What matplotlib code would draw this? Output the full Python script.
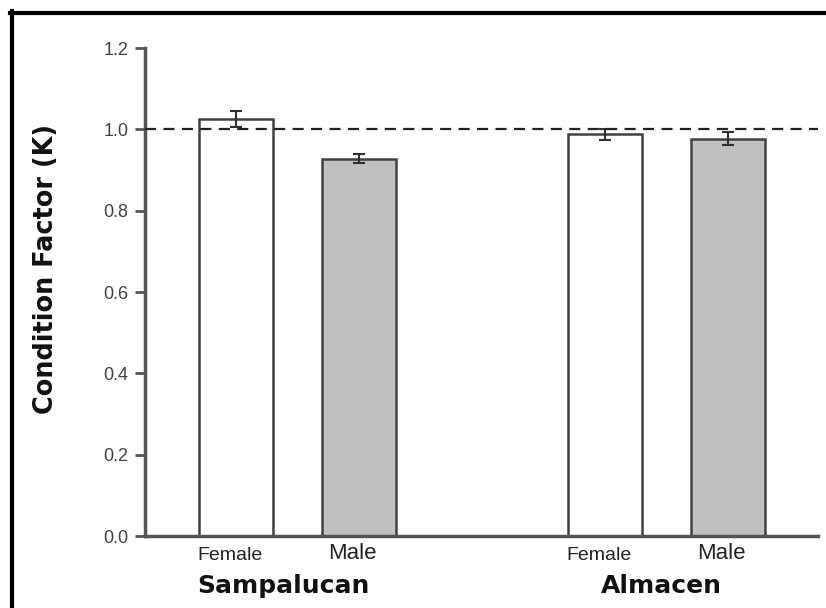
import matplotlib.pyplot as plt
from matplotlib.lines import Line2D

# data
sites = ['Sampalucan', 'Almacen']
sexes = ['Female', 'Male', 'Female', 'Male']
k_mean = [1.025, 0.928, 0.988, 0.977]
k_err = [0.020, 0.011, 0.013, 0.016]
colors = ['white', '#c0c0c0', 'white', '#c0c0c0']
positions = [0, 1, 3, 4]

fig = plt.figure(figsize=(8.26, 6.08), dpi=100)
ax = fig.add_axes([0.1755, 0.1184, 0.8145, 0.8026])

ax.bar(positions, k_mean, width=0.6, color=colors, edgecolor='#404040',
       linewidth=1.8, zorder=2)
ax.errorbar(positions, k_mean, yerr=k_err, fmt='none', ecolor='#303030',
            elinewidth=1.5, capsize=4, capthick=1.5, zorder=3)
ax.axhline(1.0, color='#222222', linestyle=(0, (5, 3.3)), linewidth=1.6, zorder=4)

ax.set_xlim(-0.74, 4.73)
ax.set_ylim(0, 1.2)
ax.set_yticks([0.0, 0.2, 0.4, 0.6, 0.8, 1.0, 1.2])
ax.set_yticklabels(['0.0', '0.2', '0.4', '0.6', '0.8', '1.0', '1.2'],
                   family='Liberation Sans', fontsize=13, color='#404048')
ax.tick_params(axis='y', length=7, width=2, color='#555555', pad=5)
ax.set_xticks([])

for s in ['top', 'right']:
    ax.spines[s].set_visible(False)
for s in ['left', 'bottom']:
    ax.spines[s].set_color('#555555')
    ax.spines[s].set_linewidth(2.5)

# sex labels under bars
for x, lab in zip(positions, sexes):
    if lab == 'Female':
        ax.text(x - 0.05, -0.049, lab, ha='center', va='center',
                family='Liberation Sans', fontsize=14, color='#222222', clip_on=False)
    else:
        ax.text(x - 0.05, -0.043, lab, ha='center', va='center',
                family='Liberation Sans', fontsize=16, color='#222222', clip_on=False)

# site labels
for x, lab in zip([0.386, 3.46], sites):
    ax.text(x, -0.123, lab, ha='center', va='center', family='DejaVu Sans',
            fontweight='bold', fontsize=18, color='#111111', clip_on=False)

ax.set_ylabel('Condition Factor (K)', family='DejaVu Sans', fontweight='bold',
              fontsize=18.4, color='#111111')
ax.yaxis.set_label_coords(-0.128, 0.548)

# outer frame (left and top edges visible)
fig.add_artist(Line2D([11.5 / 826, 11.5 / 826], [0, 1 - 11 / 608],
                      color='black', linewidth=3, transform=fig.transFigure))
fig.add_artist(Line2D([10 / 826, 1], [1 - 12.5 / 608, 1 - 12.5 / 608],
                      color='black', linewidth=3, transform=fig.transFigure))

fig.savefig('out.png', dpi=100)
